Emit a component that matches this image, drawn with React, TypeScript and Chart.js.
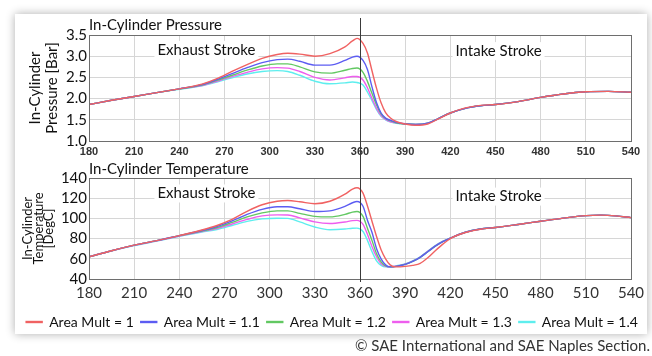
import React, { useEffect, useRef } from "react";
import { Chart, registerables } from "chart.js";

Chart.register(...registerables);

// ---------- data ----------
const SERIES_LABELS = ["Area Mult = 1", "Area Mult = 1.1", "Area Mult = 1.2", "Area Mult = 1.3", "Area Mult = 1.4"];
const SERIES_COLORS = ["#f06262", "#5c5cf2", "#62c862", "#ee5eee", "#5eeeee"];

const X_TICKS = [180, 210, 240, 270, 300, 330, 360, 390, 420, 450, 480, 510, 540];
const P_TICKS = [1.0, 1.5, 2.0, 2.5, 3.0, 3.5];
const T_TICKS = [40, 60, 80, 100, 120, 140];

// In-cylinder pressure [Bar]
const P_ANGLES = [180, 195, 210, 225, 240, 255, 265, 275, 285, 295, 305, 312, 320, 330, 340, 350, 355, 358, 362, 365, 368, 371, 374, 377, 380, 384, 390, 397, 405, 412, 420, 430, 440, 450, 465, 480, 495, 510, 525, 540];
const P_AM10 = [1.86, 1.96, 2.05, 2.14, 2.23, 2.34, 2.47, 2.64, 2.80, 2.95, 3.04, 3.07, 3.05, 3.00, 3.06, 3.22, 3.36, 3.42, 3.30, 3.07, 2.65, 2.24, 1.90, 1.67, 1.55, 1.46, 1.40, 1.37, 1.40, 1.52, 1.66, 1.78, 1.84, 1.86, 1.93, 2.03, 2.11, 2.16, 2.17, 2.15];
const P_AM11 = [1.86, 1.96, 2.05, 2.14, 2.23, 2.33, 2.45, 2.59, 2.73, 2.85, 2.92, 2.93, 2.88, 2.79, 2.79, 2.90, 2.98, 3.00, 2.90, 2.68, 2.27, 1.90, 1.66, 1.54, 1.49, 1.44, 1.40, 1.39, 1.42, 1.53, 1.66, 1.77, 1.83, 1.86, 1.93, 2.03, 2.11, 2.16, 2.17, 2.15];
const P_AM12 = [1.86, 1.96, 2.05, 2.14, 2.23, 2.32, 2.43, 2.55, 2.67, 2.77, 2.82, 2.82, 2.75, 2.63, 2.60, 2.67, 2.71, 2.72, 2.62, 2.40, 2.12, 1.85, 1.64, 1.53, 1.48, 1.43, 1.40, 1.39, 1.42, 1.53, 1.66, 1.77, 1.83, 1.86, 1.93, 2.03, 2.11, 2.16, 2.17, 2.15];
const P_AM13 = [1.86, 1.96, 2.05, 2.14, 2.23, 2.31, 2.41, 2.52, 2.62, 2.70, 2.73, 2.72, 2.64, 2.50, 2.44, 2.49, 2.52, 2.52, 2.44, 2.25, 2.00, 1.77, 1.60, 1.51, 1.46, 1.43, 1.41, 1.39, 1.42, 1.53, 1.66, 1.77, 1.83, 1.86, 1.93, 2.03, 2.11, 2.16, 2.17, 2.15];
const P_AM14 = [1.86, 1.96, 2.05, 2.14, 2.22, 2.30, 2.39, 2.49, 2.58, 2.64, 2.66, 2.64, 2.55, 2.41, 2.35, 2.37, 2.39, 2.38, 2.32, 2.15, 1.95, 1.74, 1.58, 1.50, 1.45, 1.42, 1.41, 1.39, 1.42, 1.53, 1.66, 1.77, 1.83, 1.86, 1.93, 2.03, 2.11, 2.16, 2.17, 2.15];

// In-cylinder temperature [DegC]
const T_ANGLES = [180, 195, 210, 225, 240, 255, 265, 275, 285, 295, 305, 312, 320, 330, 340, 350, 355, 358, 362, 365, 368, 371, 374, 377, 380, 384, 390, 395, 400, 405, 410, 415, 420, 430, 440, 450, 465, 480, 495, 510, 520, 530, 540];
const T_AM10 = [62, 68, 73.5, 78, 83, 88.5, 93, 99, 107, 113.5, 117, 117.7, 116.5, 114.5, 117, 124, 129, 130.4, 125, 112, 97, 82, 69, 60, 54, 52, 52.5, 53.5, 55.5, 61, 68, 74.5, 80, 86, 89.3, 91, 94, 97.2, 100.3, 102.7, 103.2, 102.5, 100.8];
const T_AM11 = [62, 68, 73.5, 78, 83, 88, 92, 97.5, 104, 109, 111.5, 111.6, 109.5, 106.8, 107.5, 112, 115.5, 116.7, 112, 98, 86, 70, 60, 54, 52, 52.5, 54.5, 57.5, 61.5, 67, 72.5, 77, 80.5, 86.3, 89.5, 91, 94, 97.2, 100.3, 102.7, 103.2, 102.5, 100.8];
const T_AM12 = [62, 68, 73.5, 78, 83, 87.5, 91, 96, 101.5, 105.5, 107.5, 107.5, 105, 102, 101.5, 104, 106.2, 106.8, 102, 90, 78, 65, 57, 53, 52, 52.5, 54.5, 57.5, 61.5, 67, 72.5, 77, 80.5, 86.3, 89.5, 91, 94, 97.2, 100.3, 102.7, 103.2, 102.5, 100.8];
const T_AM13 = [62, 68, 73.3, 77.8, 82.6, 87, 90, 94.5, 99, 102.5, 103.5, 103.4, 100.5, 96.5, 95, 96.5, 97.8, 98, 94, 84, 72, 62, 55, 52.5, 52, 52.8, 54.8, 57.8, 61.8, 67.3, 72.8, 77.2, 80.5, 86.3, 89.5, 91, 94, 97.2, 100.3, 102.7, 103.2, 102.5, 100.8];
const T_AM14 = [62, 67.8, 73, 77.5, 82.2, 86.5, 89, 93, 97, 99.5, 100.2, 100, 96.5, 91.5, 88.8, 89.5, 90.3, 90.4, 87, 78, 67, 58, 53.5, 52, 52, 53, 55, 58, 62, 67.5, 73, 77.4, 80.5, 86.3, 89.5, 91, 94, 97.2, 100.3, 102.7, 103.2, 102.5, 100.8];

const P_SERIES = [P_AM10, P_AM11, P_AM12, P_AM13, P_AM14];
const T_SERIES = [T_AM10, T_AM11, T_AM12, T_AM13, T_AM14];

// ---------- styling ----------
const FONT = "Lato, 'Open Sans', sans-serif";
const NARROW = "'Liberation Sans', Arial, sans-serif";
const GRID = "#d6d6d6";
const FRAME = "#6e6e6e";

type Note = { text: string; x: number; y: number };

function makeOverlay(lineTop: number, lineBottom: number | null, notes: Note[]) {
  return {
    id: "overlay",
    beforeDatasetsDraw(chart: any) {
      const { ctx } = chart;
      const xs = chart.scales.x;
      const ys = chart.scales.y;
      ctx.save();
      ctx.font = `15px ${FONT}`;
      ctx.textAlign = "center";
      ctx.textBaseline = "middle";
      for (const n of notes) {
        const px = xs.getPixelForValue(n.x);
        const py = ys.getPixelForValue(n.y);
        const w = ctx.measureText(n.text).width;
        ctx.fillStyle = "#ffffff";
        ctx.fillRect(px - w / 2 - 3, py - 9, w + 6, 18);
        ctx.fillStyle = "#111111";
        ctx.fillText(n.text, px, py);
      }
      ctx.restore();
    },
    afterDatasetsDraw(chart: any) {
      const { ctx, chartArea } = chart;
      ctx.save();
      ctx.strokeStyle = FRAME;
      ctx.lineWidth = 1;
      ctx.strokeRect(
        Math.round(chartArea.left) + 0.5,
        Math.round(chartArea.top) + 0.5,
        Math.round(chartArea.right - chartArea.left),
        Math.round(chartArea.bottom - chartArea.top)
      );
      const x = Math.round(chart.scales.x.getPixelForValue(360)) + 0.5;
      ctx.strokeStyle = "#3a3a3a";
      ctx.beginPath();
      ctx.moveTo(x, lineTop);
      ctx.lineTo(x, lineBottom === null ? chart.height : lineBottom);
      ctx.stroke();
      ctx.restore();
    },
  };
}

function buildDatasets(angles: number[], series: number[][]) {
  return series.map((vals, i) => ({
    label: SERIES_LABELS[i],
    data: angles.map((a, j) => ({ x: a, y: vals[j] })),
    borderColor: SERIES_COLORS[i],
    backgroundColor: SERIES_COLORS[i],
    borderWidth: 1.4,
    pointRadius: 0,
    fill: false,
    cubicInterpolationMode: "monotone" as const,
  }));
}

function xScale(tickFont: any, tickPad: number, height: number) {
  return {
    type: "linear" as const,
    min: 180,
    max: 540,
    afterBuildTicks: (s: any) => {
      s.ticks = X_TICKS.map((v) => ({ value: v }));
    },
    afterFit: (s: any) => {
      s.height = height;
    },
    grid: { color: GRID, drawTicks: false },
    border: { display: false },
    ticks: { font: tickFont, color: "#333", padding: tickPad, maxRotation: 0, autoSkip: false },
  };
}

// invisible right-hand spacer axis so the chart area ends at the reference's right edge
const spacerAxis = {
  type: "linear" as const,
  position: "right" as const,
  display: true,
  grid: { display: false, drawTicks: false },
  border: { display: false },
  ticks: { display: false },
  afterFit: (s: any) => {
    s.width = 21;
  },
};

function PressureChart() {
  const ref = useRef<HTMLCanvasElement>(null);
  useEffect(() => {
    const chart = new Chart(ref.current!, {
      type: "line",
      data: { datasets: buildDatasets(P_ANGLES, P_SERIES) as any },
      options: {
        animation: false,
        responsive: false,
        maintainAspectRatio: false,
        layout: { padding: { left: 12, right: 0, top: 0, bottom: 0 } },
        plugins: {
          legend: { display: false },
          tooltip: { enabled: false },
          title: {
            display: true,
            text: "In-Cylinder Pressure",
            align: "start",
            fullSize: false,
            color: "#111",
            font: { family: FONT, size: 15, weight: "normal", lineHeight: 1.2 },
            padding: { top: 2, bottom: 1 },
          },
        },
        scales: {
          x: xScale({ family: NARROW, size: 11, weight: "bold" }, 4, 21) as any,
          y: {
            type: "linear",
            min: 1,
            max: 3.5,
            afterBuildTicks: (s: any) => {
              s.ticks = P_TICKS.map((v) => ({ value: v }));
            },
            afterFit: (s: any) => {
              s.width = 77;
            },
            grid: { color: GRID, drawTicks: false },
            border: { display: false },
            ticks: {
              font: { family: FONT, size: 15 },
              color: "#111",
              padding: 2,
              autoSkip: false,
              callback: (v: any) => Number(v).toFixed(1),
            },
            title: {
              display: true,
              text: ["In-Cylinder", "Pressure [Bar]"],
              color: "#111",
              font: { family: FONT, size: 15, lineHeight: "17px" },
              padding: { top: 14.5, bottom: 0 },
            },
          },
          y2: spacerAxis as any,
        },
      },
      plugins: [
        makeOverlay(4, null, [
          { text: "Exhaust Stroke", x: 258, y: 3.15 },
          { text: "Intake Stroke", x: 452, y: 3.12 },
        ]),
      ],
    });
    return () => chart.destroy();
  }, []);
  return <canvas ref={ref} width={652} height={148} style={{ position: "absolute", left: 0, top: 14, width: 652, height: 148 }} />;
}

function TemperatureChart() {
  const ref = useRef<HTMLCanvasElement>(null);
  useEffect(() => {
    const chart = new Chart(ref.current!, {
      type: "line",
      data: { datasets: buildDatasets(T_ANGLES, T_SERIES) as any },
      options: {
        animation: false,
        responsive: false,
        maintainAspectRatio: false,
        layout: { padding: { left: 12, right: 0, top: 0, bottom: 0 } },
        plugins: {
          tooltip: { enabled: false },
          title: {
            display: true,
            text: "In-Cylinder Temperature",
            align: "start",
            fullSize: false,
            color: "#111",
            font: { family: FONT, size: 15, weight: "normal", lineHeight: 1 },
            padding: { top: 0, bottom: 1 },
          },
          legend: {
            display: true,
            position: "bottom",
            labels: {
              boxWidth: 16,
              boxHeight: 1,
              padding: 7,
              color: "#111",
              font: { family: FONT, size: 14 },
            },
          },
        },
        scales: {
          x: xScale({ family: FONT, size: 15 }, 5, 29) as any,
          y: {
            type: "linear",
            min: 40,
            max: 140,
            afterBuildTicks: (s: any) => {
              s.ticks = T_TICKS.map((v) => ({ value: v }));
            },
            afterFit: (s: any) => {
              s.width = 77;
            },
            grid: { color: GRID, drawTicks: false },
            border: { display: false },
            ticks: { font: { family: FONT, size: 15 }, color: "#111", padding: 2, autoSkip: false },
            title: {
              display: true,
              text: ["In-Cylinder", "Temperature", "[DegC]"],
              color: "#111",
              font: { family: FONT, size: 13, lineHeight: "10.5px" },
              padding: { top: 10.75, bottom: 0 },
            },
          },
          y2: spacerAxis as any,
        },
      },
      plugins: [
        makeOverlay(0, 120, [
          { text: "Exhaust Stroke", x: 258, y: 124.7 },
          { text: "Intake Stroke", x: 452, y: 121.6 },
        ]),
      ],
    });
    return () => chart.destroy();
  }, []);
  return <canvas ref={ref} width={652} height={177} style={{ position: "absolute", left: 0, top: 162, width: 652, height: 177 }} />;
}

export default function App() {
  return (
    <div style={{ position: "fixed", left: 0, top: 0, width: 652, height: 356, background: "#ffffff", overflow: "hidden" }}>
      <div
        style={{
          position: "absolute",
          left: 15,
          top: 14,
          width: 632,
          height: 320,
          background: "#ffffff",
          boxShadow: "0 0 9px rgba(0,0,0,0.32)",
        }}
      />
      <PressureChart />
      <TemperatureChart />
      <div
        style={{
          position: "absolute",
          right: 2,
          top: 336,
          fontFamily: FONT,
          fontSize: 15,
          color: "#333",
          whiteSpace: "nowrap",
          lineHeight: "18px",
        }}
      >
        © SAE International and SAE Naples Section.
      </div>
    </div>
  );
}
